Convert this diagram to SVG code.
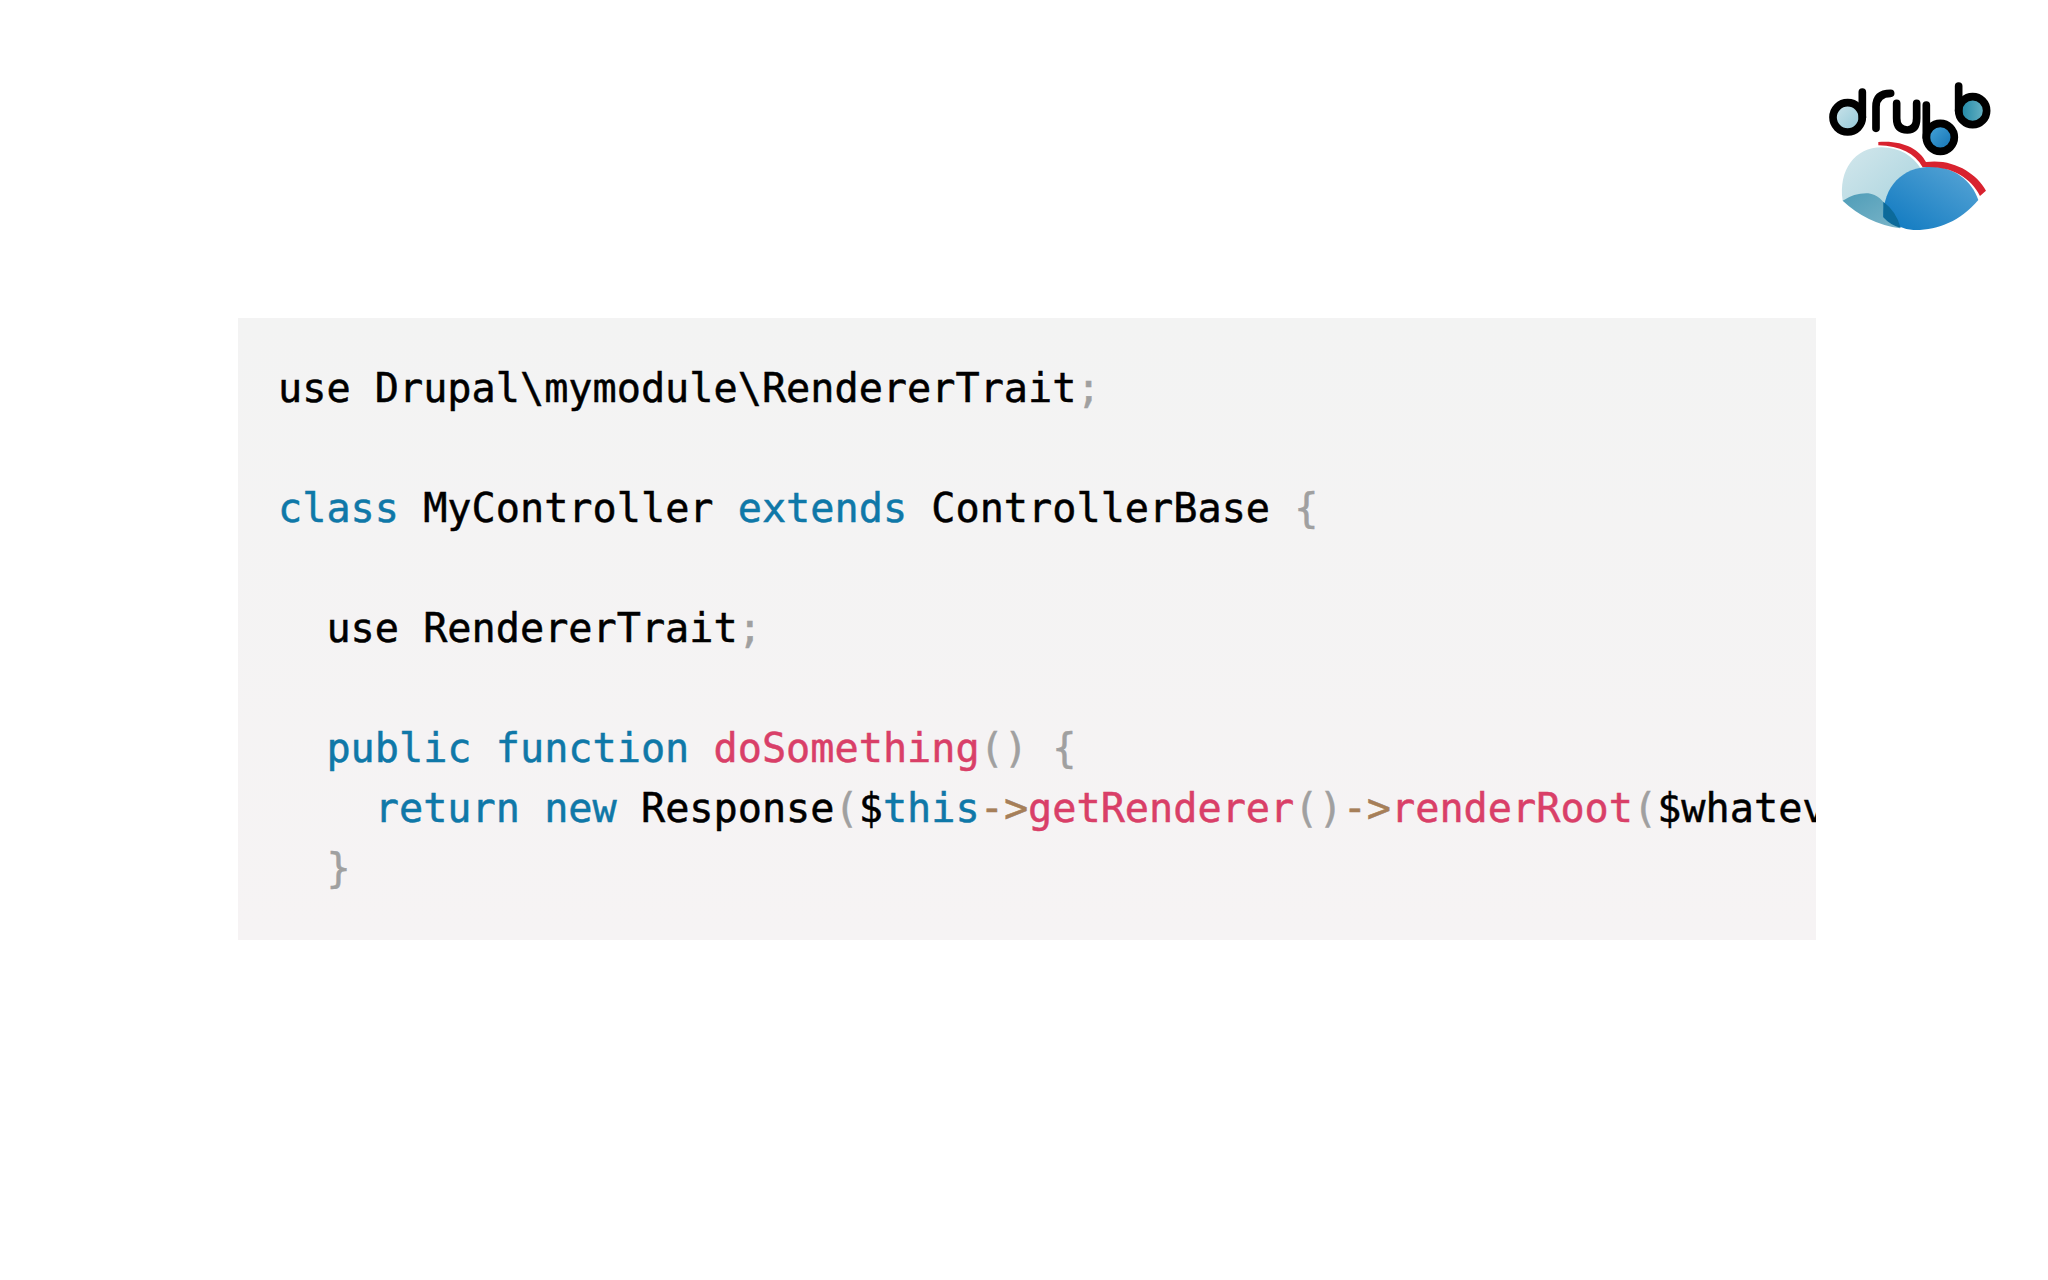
<svg xmlns="http://www.w3.org/2000/svg" width="2048" height="1280" viewBox="0 0 2048 1280">
<style>
text{font-family:"DejaVu Sans Mono","Liberation Mono",monospace;font-size:40.2px;white-space:pre;stroke-width:.5px}
.k{fill:#0f78a8;stroke:#0f78a8}.f{fill:#d93f68;stroke:#d93f68}.p{fill:#a0a0a0;stroke:#a0a0a0}.o{fill:#a67f59;stroke:#a67f59}.t{fill:#000;stroke:#000}
.l{fill:none;stroke:#000;stroke-width:23;stroke-linecap:round}
</style>
<defs>
<linearGradient id="panel" x1="0" y1="0" x2="0" y2="1"><stop offset="0" stop-color="#f3f3f3"/><stop offset="1" stop-color="#f6f3f4"/></linearGradient>
<linearGradient id="bowl1" x1="0" y1="0" x2="1" y2="1"><stop offset="0" stop-color="#cfe6ec"/><stop offset="1" stop-color="#8fc6d6"/></linearGradient>
<linearGradient id="bowl2" x1="0" y1="0" x2="1" y2="1"><stop offset="0" stop-color="#4aa8dc"/><stop offset="1" stop-color="#0f6eb0"/></linearGradient>
<linearGradient id="bowl3" x1="0" y1="0" x2="1" y2="0"><stop offset="0" stop-color="#1a85a5"/><stop offset="1" stop-color="#6fb6c6"/></linearGradient>
<linearGradient id="dome1" x1="0" y1="0" x2="1" y2="1"><stop offset="0" stop-color="#d3e7ec"/><stop offset="1" stop-color="#a6d2dd"/></linearGradient>
<linearGradient id="dome2" x1="0" y1="1" x2="1" y2="0"><stop offset="0" stop-color="#0d78c0"/><stop offset="1" stop-color="#5aa6d6"/></linearGradient>
<linearGradient id="dome3" x1="0" y1="0" x2="1" y2="1"><stop offset="0" stop-color="#4f9db8"/><stop offset="1" stop-color="#7ab4c8"/></linearGradient>
<clipPath id="clip"><rect x="238" y="318" width="1578" height="622"/></clipPath>
</defs>
<rect width="2048" height="1280" fill="#fff"/>
<g id="code-panel">
<rect x="238" y="318" width="1578" height="622" fill="url(#panel)"/>
<g clip-path="url(#clip)">
<text x="278" y="402"><tspan class="t">use Drupal\mymodule\RendererTrait</tspan><tspan class="p">;</tspan></text>
<text x="278" y="522"><tspan class="k">class</tspan><tspan class="t"> MyController </tspan><tspan class="k">extends</tspan><tspan class="t"> ControllerBase </tspan><tspan class="p">{</tspan></text>
<text x="278" y="642"><tspan class="t">  use RendererTrait</tspan><tspan class="p">;</tspan></text>
<text x="278" y="762"><tspan class="k">  public function </tspan><tspan class="f">doSomething</tspan><tspan class="p">() {</tspan></text>
<text x="278" y="822"><tspan class="k">    return new </tspan><tspan class="t">Response</tspan><tspan class="p">(</tspan><tspan class="t">$</tspan><tspan class="k">this</tspan><tspan class="o">-&gt;</tspan><tspan class="f">getRenderer</tspan><tspan class="p">()</tspan><tspan class="o">-&gt;</tspan><tspan class="f">renderRoot</tspan><tspan class="p">(</tspan><tspan class="t">$whatev</tspan></text>
<text x="278" y="882" class="p">  }</text>
</g>
</g>
<g id="logo" transform="translate(1800 60) scale(.3333)">
<path d="M128 422C115 330 165 262 245 262C300 262 340 290 362 325L290 380L250 470Q190 455 128 422Z" fill="url(#dome1)"/>
<path d="M128 422Q165 398 205 400Q245 405 262 450L300 505Q200 490 128 422Z" fill="url(#dome3)"/>
<path d="M250 470C250 380 305 320 395 320C460 320 515 360 535 420C480 485 410 512 340 510Q290 505 250 470Z" fill="url(#dome2)"/>
<path d="M250 425Q290 455 302 504Q270 495 250 472Z" fill="#0c6a9a"/>
<path d="M235 246C310 240 358 268 378 306C460 295 530 340 558 392L540 408C510 350 450 316 368 322C345 280 300 258 235 256Z" fill="#d8222f"/>
<circle cx="143" cy="172" r="44" fill="url(#bowl1)"/><path class="l" d="M187 172V96"/><circle cx="143" cy="172" r="44" class="l"/>
<path class="l" d="M228 205V140Q228 100 272 100"/>
<path class="l" d="M290 130V175Q290 210 322 210Q350 210 350 175V130"/>
<circle cx="421" cy="232" r="42" fill="url(#bowl2)"/><path class="l" d="M379 232V135"/><circle cx="421" cy="232" r="42" class="l"/>
<circle cx="518" cy="152" r="42" fill="url(#bowl3)"/><path class="l" d="M476 152V78"/><circle cx="518" cy="152" r="42" class="l"/>
</g>
</svg>
